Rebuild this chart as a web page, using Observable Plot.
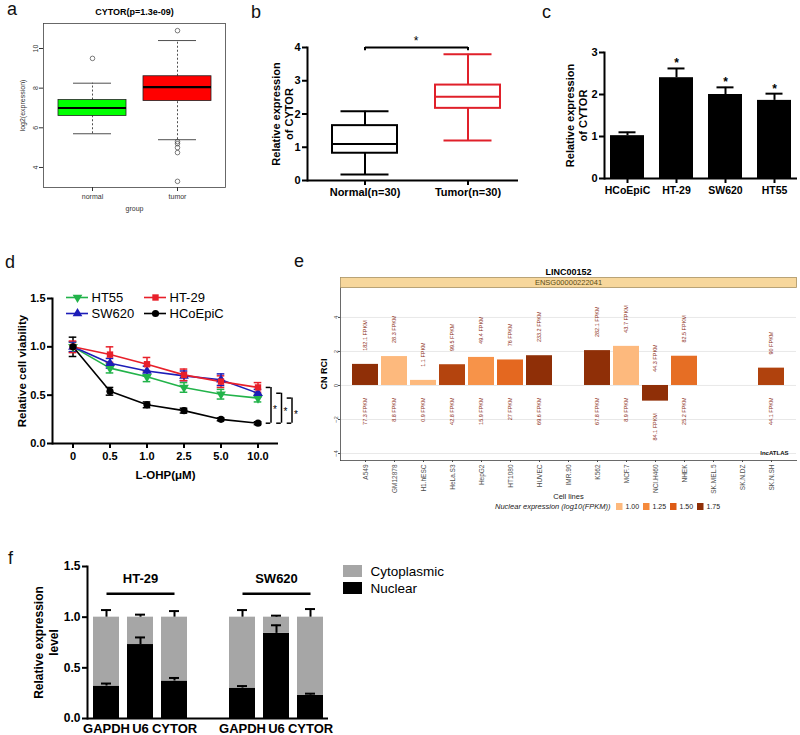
<!DOCTYPE html>
<html><head><meta charset="utf-8">
<script src="https://cdn.jsdelivr.net/npm/d3@7"></script>
<script src="https://cdn.jsdelivr.net/npm/@observablehq/plot@0.6"></script>
<style>
html,body{margin:0;padding:0;background:#fff;}
#fig{position:relative;width:800px;height:735px;overflow:hidden;background:#fff;font-family:"Liberation Sans",Arial,sans-serif;}
.letter{position:absolute;font-size:18px;line-height:18px;color:#111;}
</style></head><body><div id="fig"></div>
<script>
// ---------------- data ----------------
// panel a (TCGA boxplot)
const aTitle = "CYTOR(p=1.3e-09)";
const aGroups = ["normal", "tumor"];
const aLow = [5.7, 5.4];
const aQ1 = [6.6, 7.35];
const aMedian = [7.0, 8.05];
const aQ3 = [7.4, 8.6];
const aHigh = [8.25, 10.4];
const aOutliersNormal = [9.5];
const aOutliersTumor = [10.9, 5.3, 5.2, 5.0, 4.75, 3.3];
const aColors = ["#00ff00", "#ff0000"];
const aTicks = [4, 6, 8, 10];
const aYLabel = "log2(expression)";
const aXLabel = "group";

// panel b (tissue boxplot)
const bGroups = ["Normal(n=30)", "Tumor(n=30)"];
const bMin = [0.18, 1.2];
const bQ1 = [0.82, 2.17];
const bMedian = [1.1, 2.52];
const bQ3 = [1.65, 2.87];
const bMax = [2.08, 3.8];
const bColors = ["#000000", "#e0202a"];
const bTicks = [0, 1, 2, 3, 4];
const bSig = [{a: "Normal(n=30)", b: "Tumor(n=30)", y: 4.0, label: "*"}];
const bYLabel = "Relative expression\nof CYTOR";

// panel c (cell lines bar)
const cLines = ["HCoEpiC", "HT-29", "SW620", "HT55"];
const cMean = [1.02, 2.4, 2.0, 1.86];
const cSD = [0.08, 0.22, 0.17, 0.16];
const cSig = ["", "*", "*", "*"];
const cTicks = [0, 1, 2, 3];
const cYLabel = "Relative expression\nof CYTOR";

// panel d (viability lines)
const doses = ["0", "0.5", "1.0", "2.5", "5.0", "10.0"];
const dSeries = ["HT55", "SW620", "HT-29", "HCoEpiC"];
const dColors = ["#22b34a", "#1d1db8", "#e8202a", "#000000"];
const vHT55 = [1.0, 0.78, 0.69, 0.58, 0.51, 0.47];
const eHT55 = [0.05, 0.05, 0.05, 0.05, 0.05, 0.04];
const vSW620 = [1.0, 0.83, 0.75, 0.70, 0.66, 0.52];
const eSW620 = [0.05, 0.05, 0.05, 0.05, 0.06, 0.04];
const vHT29 = [1.0, 0.92, 0.82, 0.71, 0.64, 0.58];
const eHT29 = [0.06, 0.08, 0.07, 0.06, 0.06, 0.05];
const vHCo = [1.0, 0.54, 0.40, 0.34, 0.25, 0.21];
const eHCo = [0.1, 0.04, 0.03, 0.025, 0.015, 0.015];
const dTicks = [0, 0.5, 1.0, 1.5];
const dSigSeries = ["HT-29", "SW620", "HT55"];
const dXLabel = "L-OHP(μM)";
const dYLabel = "Relative cell viability";

// panel e (lncATLAS)
const eTitle = "LINC00152";
const eGene = "ENSG00000222041";
const eCells = ["A549", "GM12878", "H1.hESC", "HeLa.S3", "HepG2", "HT1080", "HUVEC", "IMR.90", "K562", "MCF.7", "NCI.H460", "NHEK", "SK.MEL.5", "SK.N.DZ", "SK.N.SH"];
const eRCI = [1.24, 1.70, 0.30, 1.22, 1.65, 1.50, 1.75, null, 2.05, 2.30, -0.92, 1.72, null, null, 1.02];
const eNuclearFPKM = [77.3, 8.8, 0.9, 42.8, 15.9, 27, 69.6, null, 67.8, 8.9, 84.1, 25.2, null, null, 44.1];
const eCytoFPKM = [182.1, 28.3, 1.1, 99.5, 49.4, 76, 233.2, null, 282.1, 43.7, 44.3, 82.5, null, null, 90];
const eGrid = [-4, -2, 0, 2, 4];
const eLegendTicks = [1.00, 1.25, 1.50, 1.75];
const eColors = ["#fdb97d", "#f58a3c", "#dd5b15", "#8f2f07"];
const eYLabel = "CN RCI";
const eXLabel = "Cell lines";
const eLegendTitle = "Nuclear expression (log10(FPKM))";
const eBrand = "lncATLAS";

// panel f (fractionation)
const fCells = ["HT-29", "SW620"];
const fGenes = ["GAPDH", "U6", "CYTOR"];
const fNuclear = [[0.32, 0.73, 0.37], [0.30, 0.84, 0.23]];
const fNuclearErr = [[0.025, 0.07, 0.03], [0.02, 0.08, 0.015]];
const fCyto = [[0.68, 0.27, 0.63], [0.70, 0.16, 0.77]];
const fCytoErr = [[0.07, 0.025, 0.06], [0.07, 0.015, 0.08]];
const fFractions = ["Cytoplasmic", "Nuclear"];
const fFractionColors = ["#a6a6a6", "#000000"];
const fTicks = [0, 0.5, 1.0, 1.5];
const fGroupLineY = 1.23;
const fYLabel = "Relative expression\nlevel";

// ---------------- helpers ----------------
const FONT = "'Liberation Sans', Arial, Helvetica, sans-serif";
const baseStyle = {background: "transparent", fontFamily: FONT, overflow: "visible", color: "#000"};
const fig = document.getElementById("fig");
function place(node, left, top) {
  node.style.position = "absolute";
  node.style.left = left + "px";
  node.style.top = top + "px";
  fig.appendChild(node);
  return node;
}
const id = d => d;
const f1 = d3.format(".1f");
const fInt = d3.format("d");

// panel letters
[["a", 7, 15], ["b", 251, 18], ["c", 542, 18], ["d", 5, 268], ["e", 294, 267], ["f", 8, 564]].forEach(([t, x, base]) => {
  const el = document.createElement("div");
  el.className = "letter";
  el.textContent = t;
  el.style.left = x + "px";
  el.style.top = (base - 15) + "px";
  fig.appendChild(el);
});

// ---------------- panel a ----------------
const aRows = aGroups.map((g, i) => ({g, lo: aLow[i], q1: aQ1[i], med: aMedian[i], q3: aQ3[i], hi: aHigh[i]}));
const aOut = [...aOutliersNormal.map(v => ({g: aGroups[0], v})), ...aOutliersTumor.map(v => ({g: aGroups[1], v}))];
place(Plot.plot({
  width: 230, height: 215, marginLeft: 43, marginRight: 5, marginTop: 23, marginBottom: 28,
  style: {...baseStyle, color: "#333"},
  x: {type: "band", domain: aGroups, paddingInner: 0.2, paddingOuter: 0.17, label: null},
  y: {domain: [2.99, 11.26], label: null},
  color: {domain: aGroups, range: aColors},
  marks: [
    Plot.ruleX(aRows, {x: "g", y1: "lo", y2: "q1", stroke: "#222", strokeWidth: 0.8, strokeDasharray: "2,2"}),
    Plot.ruleX(aRows, {x: "g", y1: "q3", y2: "hi", stroke: "#222", strokeWidth: 0.8, strokeDasharray: "2,2"}),
    Plot.tickY(aRows, {x: "g", y: "lo", insetLeft: 15, insetRight: 15, stroke: "#222", strokeWidth: 0.8}),
    Plot.tickY(aRows, {x: "g", y: "hi", insetLeft: 15, insetRight: 15, stroke: "#222", strokeWidth: 0.8}),
    Plot.barY(aRows, {x: "g", y1: "q1", y2: "q3", fill: "g", stroke: "#222", strokeWidth: 0.8}),
    Plot.tickY(aRows, {x: "g", y: "med", stroke: "#000", strokeWidth: 2.2}),
    Plot.dot(aOut, {x: "g", y: "v", r: 2.3, stroke: "#444", strokeWidth: 0.7}),
    Plot.frame({stroke: "#444", strokeWidth: 0.8}),
    Plot.axisY({ticks: aTicks, tickFormat: fInt, tickSize: 4, tickPadding: 2, tickRotate: -90, fontSize: 7, label: null}),
    Plot.axisX({tickSize: 4, tickPadding: 3, fontSize: 7, label: null}),
    Plot.text([aTitle], {text: id, frameAnchor: "top", lineAnchor: "middle", textAnchor: "middle", dy: -11, fontWeight: "bold", fontSize: 9, fill: "#000"}),
    Plot.text([aYLabel], {text: id, frameAnchor: "left", lineAnchor: "middle", textAnchor: "middle", dx: -21, rotate: -90, fontSize: 7}),
    Plot.text([aXLabel], {text: id, frameAnchor: "bottom", lineAnchor: "middle", textAnchor: "middle", dy: 21, fontSize: 7})
  ]
}), 0, 0);

// ---------------- panel b ----------------
const bRows = bGroups.map((g, i) => ({g, lo: bMin[i], q1: bQ1[i], med: bMedian[i], q3: bQ3[i], hi: bMax[i]}));
place(Plot.plot({
  width: 330, height: 200, marginLeft: 107, marginRight: 12, marginTop: 47, marginBottom: 20,
  style: baseStyle,
  x: {type: "band", domain: bGroups, paddingInner: 0.365, paddingOuter: 0.197, align: 0.585, label: null},
  y: {domain: [0, 4], label: null},
  color: {domain: bGroups, range: bColors},
  marks: [
    Plot.ruleX(bRows, {x: "g", y1: "lo", y2: "q1", stroke: "g", strokeWidth: 2}),
    Plot.ruleX(bRows, {x: "g", y1: "q3", y2: "hi", stroke: "g", strokeWidth: 2}),
    Plot.tickY(bRows, {x: "g", y: "lo", stroke: "g", strokeWidth: 2, insetLeft: 8.5, insetRight: 8.5}),
    Plot.tickY(bRows, {x: "g", y: "hi", stroke: "g", strokeWidth: 2, insetLeft: 8.5, insetRight: 8.5}),
    Plot.barY(bRows, {x: "g", y1: "q1", y2: "q3", fill: "white", stroke: "g", strokeWidth: 2}),
    Plot.tickY(bRows, {x: "g", y: "med", stroke: "g", strokeWidth: 2}),
    Plot.ruleY([0], {strokeWidth: 2}),
    Plot.frame({anchor: "left", strokeWidth: 2}),
    Plot.axisY({ticks: bTicks, tickFormat: fInt, tickSize: 5, tickPadding: 2, fontSize: 11, fontWeight: "bold", strokeWidth: 2, label: null}),
    Plot.axisX({tickSize: 5, tickPadding: 3, fontSize: 11, fontWeight: "bold", strokeWidth: 2, label: null}),
    Plot.link(bSig, {x1: "a", x2: "b", y1: "y", y2: "y", strokeWidth: 2}),
    Plot.ruleX(bSig, {x: "a", y1: d => d.y - 0.1, y2: "y", strokeWidth: 2}),
    Plot.ruleX(bSig, {x: "b", y1: d => d.y - 0.1, y2: "y", strokeWidth: 2}),
    Plot.text(bSig, {x: "b", y: "y", dx: -52, dy: -6, text: "label", fontSize: 12}),
    Plot.text([bYLabel], {text: id, frameAnchor: "left", lineAnchor: "middle", textAnchor: "middle", dx: -25.5, rotate: -90, fontSize: 11, fontWeight: "bold", lineHeight: 1.2})
  ]
}), 200, 0);

// ---------------- panel c ----------------
const cRows = cLines.map((g, i) => ({g, m: cMean[i], sd: cSD[i], sig: cSig[i]}));
place(Plot.plot({
  width: 320, height: 200, marginLeft: 124, marginRight: 3, marginTop: 52, marginBottom: 22,
  style: baseStyle,
  x: {type: "band", domain: cLines, paddingInner: 0.31, paddingOuter: 0.11, label: null},
  y: {domain: [0, 3], label: null},
  marks: [
    Plot.ruleX(cRows, {x: "g", y1: "m", y2: d => d.m + d.sd, strokeWidth: 2}),
    Plot.tickY(cRows, {x: "g", y: d => d.m + d.sd, insetLeft: 8.5, insetRight: 8.5, strokeWidth: 2}),
    Plot.barY(cRows, {x: "g", y: "m", fill: "black"}),
    Plot.text(cRows, {x: "g", y: d => d.m + d.sd, text: "sig", dy: -5, fontSize: 12, fontWeight: "bold"}),
    Plot.ruleY([0], {strokeWidth: 2}),
    Plot.frame({anchor: "left", strokeWidth: 2}),
    Plot.axisY({ticks: cTicks, tickFormat: fInt, tickSize: 5, tickPadding: 2, fontSize: 11, fontWeight: "bold", strokeWidth: 2, label: null}),
    Plot.axisX({tickSize: 5, tickPadding: 3, fontSize: 10.5, fontWeight: "bold", strokeWidth: 2, label: null}),
    Plot.text([cYLabel], {text: id, frameAnchor: "left", lineAnchor: "middle", textAnchor: "middle", dx: -28.5, rotate: -90, fontSize: 11, fontWeight: "bold", lineHeight: 1.2})
  ]
}), 480, 0);

// ---------------- panel d ----------------
const triangleDown = {
  draw(context, size) {
    const y = -Math.sqrt(size / (Math.sqrt(3) * 3));
    context.moveTo(0, -y * 2);
    context.lineTo(-Math.sqrt(3) * y, y);
    context.lineTo(Math.sqrt(3) * y, y);
    context.closePath();
  }
};
const dSymbols = [triangleDown, "triangle", "square", "circle"];
const dValues = [vHT55, vSW620, vHT29, vHCo];
const dErrors = [eHT55, eSW620, eHT29, eHCo];
const dRows = dSeries.flatMap((s, si) => doses.map((x, xi) => ({s, x, v: dValues[si][xi], e: dErrors[si][xi]})));
const lastDose = doses[doses.length - 1];
const dRef = dValues[dSeries.indexOf("HCoEpiC")];
const dSigRows = dSigSeries.map(s => ({x: lastDose, top: dValues[dSeries.indexOf(s)][doses.length - 1], bottom: dRef[doses.length - 1], label: "*"}));
const dW = 310, dML = 52, dMR = 32, dPadOuter = 0.02;
const dStep = (dW - dML - dMR) / (doses.length + 2 * dPadOuter);
const dCap = (dStep - 8) / 2;
const dSigMarks = dSigRows.flatMap((r, i) => {
  const dx = 13 + 10.5 * i;
  return [
    Plot.ruleX([r], {x: "x", y1: "bottom", y2: "top", dx, strokeWidth: 1.5}),
    Plot.tickY([r], {x: "x", y: "top", dx, insetLeft: dStep / 2 - 5, insetRight: dStep / 2, strokeWidth: 1.5}),
    Plot.tickY([r], {x: "x", y: "bottom", dx, insetLeft: dStep / 2 - 5, insetRight: dStep / 2, strokeWidth: 1.5}),
    Plot.text([r], {x: "x", y: d => (d.top + d.bottom) / 2, text: "label", dx: dx + 4, dy: 4, fontSize: 10})
  ];
});
const dPlotBase = {
  color: {domain: dSeries, range: dColors},
  symbol: {domain: dSeries, range: dSymbols}
};
place(Plot.plot({
  ...dPlotBase,
  width: dW, height: 280, marginLeft: dML, marginRight: dMR, marginTop: 93, marginBottom: 42,
  style: baseStyle,
  x: {type: "band", domain: doses, paddingInner: 0, paddingOuter: dPadOuter, label: null},
  y: {domain: [0, 1.5], label: null},
  marks: [
    Plot.ruleX(dRows, {x: "x", y1: d => d.v - d.e, y2: d => d.v + d.e, stroke: "s", strokeWidth: 1.5}),
    Plot.tickY(dRows, {x: "x", y: d => d.v + d.e, stroke: "s", strokeWidth: 1.5, insetLeft: dCap, insetRight: dCap}),
    Plot.tickY(dRows, {x: "x", y: d => d.v - d.e, stroke: "s", strokeWidth: 1.5, insetLeft: dCap, insetRight: dCap}),
    Plot.line(dRows, {x: "x", y: "v", z: "s", stroke: "s", strokeWidth: 1.6}),
    Plot.dot(dRows, {x: "x", y: "v", symbol: "s", fill: "s", r: 3.6}),
    Plot.ruleY([0], {strokeWidth: 2}),
    Plot.frame({anchor: "left", strokeWidth: 2}),
    Plot.axisY({ticks: dTicks, tickFormat: f1, tickSize: 5, tickPadding: 2, fontSize: 11, fontWeight: "bold", strokeWidth: 2, label: null}),
    Plot.axisX({tickSize: 5, tickPadding: 4, fontSize: 11, fontWeight: "bold", strokeWidth: 2, label: null}),
    ...dSigMarks,
    Plot.text([dXLabel], {text: id, frameAnchor: "bottom", lineAnchor: "middle", textAnchor: "middle", dy: 32, fontSize: 11.5, fontWeight: "bold"}),
    Plot.text([dYLabel], {text: id, frameAnchor: "left", lineAnchor: "middle", textAnchor: "middle", dx: -30, rotate: -90, fontSize: 11.5, fontWeight: "bold"})
  ]
}), 0, 205);
// legend d
const dLegendRows = dSeries.map((s, i) => ({s, col: Math.floor(i / 2), row: i % 2}));
place(Plot.plot({
  ...dPlotBase,
  width: 200, height: 36, marginLeft: 11, marginRight: 88, marginTop: 10, marginBottom: 10,
  style: baseStyle,
  x: {type: "band", domain: [0, 1], paddingInner: 0.72, paddingOuter: 0, align: 0, axis: null},
  y: {type: "point", domain: [0, 1], padding: 0, axis: null},
  marks: [
    Plot.tickY(dLegendRows, {x: "col", y: "row", stroke: "s", strokeWidth: 1.6}),
    Plot.dot(dLegendRows, {x: "col", y: "row", symbol: "s", fill: "s", r: 3.6}),
    Plot.text(dLegendRows, {x: "col", y: "row", text: "s", dx: 14, textAnchor: "start", fontSize: 13})
  ]
}), 55, 287);

// ---------------- panel e ----------------
const eRows = eCells.map((c, i) => ({c, rci: eRCI[i], nuc: eNuclearFPKM[i], cyto: eCytoFPKM[i]}));
const eHave = eRows.filter(d => d.rci != null);
const eColor = {type: "linear", domain: eLegendTicks, range: eColors, clamp: true};
place(Plot.plot({
  width: 490, height: 255, marginLeft: 30, marginRight: 4, marginTop: 25, marginBottom: 57,
  style: {...baseStyle, color: "#4d4d4d"},
  x: {type: "band", domain: eCells, paddingInner: 0.1, paddingOuter: 0.15, label: null},
  y: {domain: [-4.41, 5.76], label: null},
  color: eColor,
  marks: [
    Plot.ruleY(eGrid, {stroke: "#e2e2e2", strokeWidth: 0.8}),
    Plot.barY(eHave, {x: "c", y: "rci", fill: d => Math.log10(d.nuc)}),
    Plot.text(eHave, {x: "c", y: d => Math.max(d.rci, 0) + 0.8, text: d => `${d.cyto} FPKM`, rotate: -90, textAnchor: "start", fontSize: 5.5, fill: "#8b2a14"}),
    Plot.text(eHave, {x: "c", y: d => Math.min(d.rci, 0) - 0.7, text: d => `${d.nuc} FPKM`, rotate: -90, textAnchor: "end", fontSize: 5.5, fill: "#8b2a14"}),
    Plot.frame({anchor: "left", stroke: "#444", strokeWidth: 0.8}),
    Plot.frame({anchor: "bottom", stroke: "#444", strokeWidth: 0.8}),
    Plot.frame({insetTop: -10, insetBottom: 173, fill: "#f7d79c", stroke: "#a89262", strokeWidth: 0.8}),
    Plot.text([eTitle], {text: id, frameAnchor: "top", lineAnchor: "middle", textAnchor: "middle", dy: -15, fontWeight: "bold", fontSize: 9, fill: "#000"}),
    Plot.text([eGene], {text: id, frameAnchor: "top", lineAnchor: "middle", textAnchor: "middle", dy: -4.5, fontSize: 7.5, fill: "#5c4c14"}),
    Plot.axisY({ticks: eGrid, tickFormat: fInt, tickSize: 2, tickPadding: 1, tickRotate: -90, fontSize: 6, label: null}),
    Plot.axisX({tickSize: 2, tickPadding: 2, tickRotate: -90, fontSize: 6.5, label: null}),
    Plot.text([eYLabel], {text: id, frameAnchor: "left", lineAnchor: "middle", textAnchor: "middle", dx: -16, rotate: -90, fontWeight: "bold", fontSize: 9, fill: "#000"}),
    Plot.text([eXLabel], {text: id, frameAnchor: "bottom", lineAnchor: "middle", textAnchor: "middle", dy: 36, fontSize: 7.5, fill: "#222"}),
    Plot.text([eBrand], {text: id, frameAnchor: "bottom-right", lineAnchor: "middle", textAnchor: "end", dx: -8, dy: -7, fontWeight: "bold", fontSize: 6, fill: "#111"})
  ]
}), 310, 262);
// legend e
place(Plot.plot({
  width: 270, height: 12, marginLeft: 145, marginRight: 15, marginTop: 2, marginBottom: 3,
  style: baseStyle,
  x: {type: "band", domain: eLegendTicks, padding: 0, axis: null},
  color: eColor,
  marks: [
    Plot.cell(eLegendTicks, {x: id, fill: id, insetRight: 20.5}),
    Plot.text(eLegendTicks, {x: id, text: d3.format(".2f"), dx: -4.5, textAnchor: "start", fontSize: 7, fill: "#222"}),
    Plot.text([eLegendTitle], {text: id, frameAnchor: "left", lineAnchor: "middle", textAnchor: "end", dx: -5, fontSize: 7.5, fontStyle: "italic", fill: "#222"})
  ]
}), 470, 501);

// ---------------- panel f ----------------
const fKeys = fCells.map(c => fGenes.map(g => `${c} ${g}`));
const fDomain = [...fKeys[0], "", ...fKeys[1]];
const fRows = fCells.flatMap((c, ci) => fGenes.map((g, gi) => ({
  key: fKeys[ci][gi], nuc: fNuclear[ci][gi], nucErr: fNuclearErr[ci][gi], cyto: fCyto[ci][gi], cytoErr: fCytoErr[ci][gi]
})));
const fStack = fRows.flatMap(d => [{key: d.key, fraction: "Nuclear", value: d.nuc}, {key: d.key, fraction: "Cytoplasmic", value: d.cyto}]);
const fColor = {domain: fFractions, range: fFractionColors};
place(Plot.plot({
  width: 440, height: 190, marginLeft: 87, marginRight: 112, marginTop: 21, marginBottom: 17,
  style: baseStyle,
  x: {type: "band", domain: fDomain, paddingInner: 0.24, paddingOuter: 0.13, label: null},
  y: {domain: [0, 1.5], label: null},
  color: fColor,
  marks: [
    Plot.barY(fStack, {x: "key", y: "value", fill: "fraction"}),
    Plot.ruleX(fRows, {x: "key", y1: "nuc", y2: d => d.nuc + d.nucErr, strokeWidth: 2}),
    Plot.tickY(fRows, {x: "key", y: d => d.nuc + d.nucErr, insetLeft: 8, insetRight: 8, strokeWidth: 2}),
    Plot.ruleX(fRows, {x: "key", y1: d => d.nuc + d.cyto, y2: d => d.nuc + d.cyto + d.cytoErr, strokeWidth: 2}),
    Plot.tickY(fRows, {x: "key", y: d => d.nuc + d.cyto + d.cytoErr, insetLeft: 8, insetRight: 8, strokeWidth: 2}),
    Plot.link(fCells, {x1: d => `${d} ${fGenes[0]}`, x2: d => `${d} ${fGenes[2]}`, y1: () => fGroupLineY, y2: () => fGroupLineY, strokeWidth: 2.5}),
    Plot.text(fCells, {x: d => `${d} ${fGenes[1]}`, y: () => fGroupLineY, text: id, dy: -15, fontWeight: "bold", fontSize: 13}),
    Plot.ruleY([0], {strokeWidth: 2}),
    Plot.frame({anchor: "left", strokeWidth: 2}),
    Plot.axisY({ticks: fTicks, tickFormat: f1, tickSize: 5, tickPadding: 2, fontSize: 12, fontWeight: "bold", strokeWidth: 2, label: null}),
    Plot.axisX({ticks: fRows.map(d => d.key), tickFormat: k => k.split(" ")[1] || "", tickSize: 0, tickPadding: 5, fontSize: 13, fontWeight: "bold", label: null}),
    Plot.text([fYLabel], {text: id, frameAnchor: "left", lineAnchor: "middle", textAnchor: "middle", dx: -42, rotate: -90, fontSize: 12, fontWeight: "bold", lineHeight: 1.3})
  ]
}), 0, 545);
// legend f
place(Plot.plot({
  width: 120, height: 34, marginLeft: 0, marginRight: 0, marginTop: 0, marginBottom: 0,
  style: baseStyle,
  y: {type: "band", domain: fFractions, paddingInner: 0.294, paddingOuter: 0.147, axis: null},
  color: fColor,
  marks: [
    Plot.cell(fFractions, {y: id, fill: id, insetRight: 101}),
    Plot.text(fFractions, {y: id, text: id, frameAnchor: "left", lineAnchor: "middle", textAnchor: "start", dx: 27, fontSize: 13.5})
  ]
}), 343, 563);
</script></body></html>
